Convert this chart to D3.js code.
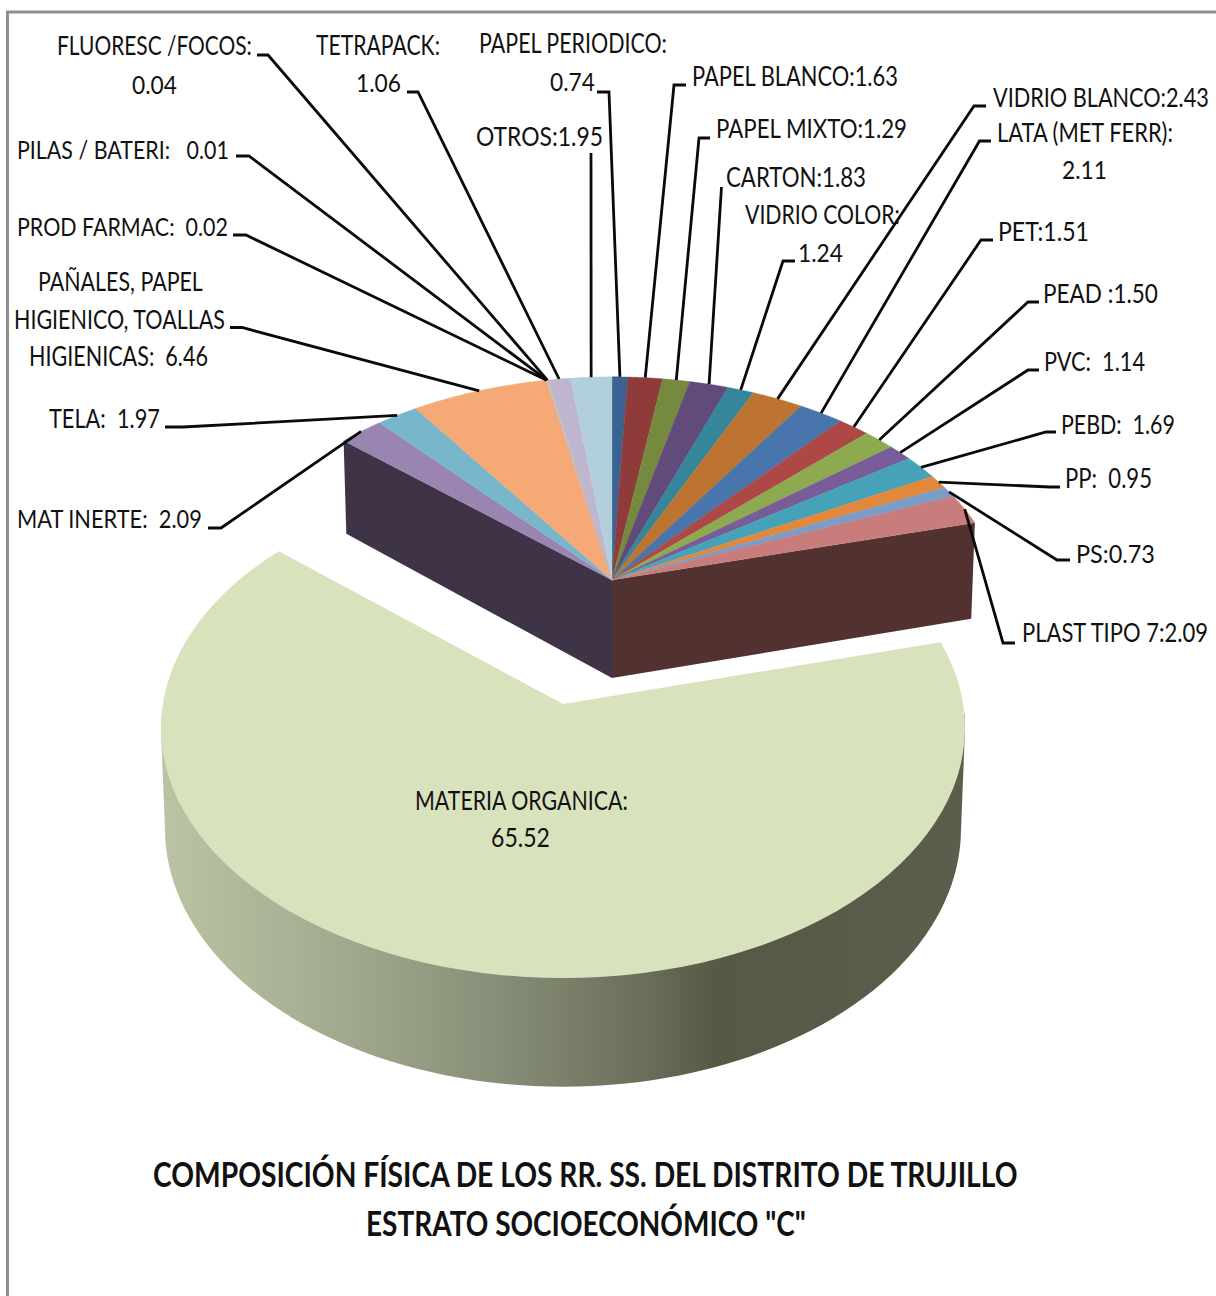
<!DOCTYPE html>
<html>
<head>
<meta charset="utf-8">
<script src="https://d3js.org/d3.v7.min.js"></script>
<style>
  body { margin: 0; background: #fff; }
  text { font-family: Lato, "Open Sans", sans-serif; white-space: pre; fill: #111; }
</style>
</head>
<body>
<svg id="chart" width="1216" height="1296"></svg>
<script>
// Slices, clockwise from 12 o'clock
const categories = ["PAPEL PERIODICO", "PAPEL BLANCO", "PAPEL MIXTO", "CARTON", "VIDRIO COLOR", "VIDRIO BLANCO",
  "LATA (MET FERR)", "PET", "PEAD", "PVC", "PEBD", "PP", "PS", "PLAST TIPO 7", "MATERIA ORGANICA", "MAT INERTE",
  "TELA", "PAÑALES", "PROD FARMAC", "PILAS / BATERI", "FLUORESC / FOCOS", "TETRAPACK", "OTROS"];
const values = [0.74, 1.63, 1.29, 1.83, 1.24, 2.43, 2.11, 1.51, 1.50, 1.14, 1.69, 0.95, 0.73, 2.09, 65.52, 2.09,
  1.97, 6.46, 0.02, 0.01, 0.04, 1.06, 1.95];
const sliceColors = ["#3a6391", "#8e3b3a", "#75893f", "#604b7a", "#35869b", "#bd7430", "#4875ac", "#ae4847", "#8eaa51",
  "#775c98", "#46a2b8", "#e2883d", "#7c9cc8", "#c87c7b", "#d8e3bd", "#9a85b0", "#78b6cc", "#f4a976", "#a9bcd8",
  "#dca9a8", "#c4d5a6", "#bfb5cf", "#b2d0dc"];

// Title text: [text, left, right, baseline]
const titleLines = [
  ["COMPOSICIÓN FÍSICA DE LOS RR. SS. DEL DISTRITO DE TRUJILLO", 153, 1018, 1187],
  ["ESTRATO SOCIOECONÓMICO \"C\"", 366, 806, 1236]
];

// Label text: [text, left, right, baseline]
const labelLines = [
  ["FLUORESC /FOCOS:", 57, 252, 55], ["0.04", 132, 177, 94],
  ["TETRAPACK:", 316, 440, 55], ["1.06", 356, 401, 92],
  ["PAPEL PERIODICO:", 479, 667, 53], ["0.74", 550, 595, 91],
  ["OTROS:1.95", 476, 603, 146],
  ["PILAS / BATERI:   0.01", 17, 229, 159],
  ["PROD FARMAC:  0.02", 17, 228, 236],
  ["PAÑALES, PAPEL", 38, 203, 291], ["HIGIENICO, TOALLAS", 14, 225, 329], ["HIGIENICAS:  6.46", 29, 208, 366],
  ["TELA:  1.97", 49, 160, 428],
  ["MAT INERTE:  2.09", 17, 202, 528],
  ["PAPEL BLANCO:1.63", 692, 898, 86],
  ["PAPEL MIXTO:1.29", 716, 907, 138],
  ["CARTON:1.83", 726, 866, 187],
  ["VIDRIO COLOR:", 745, 900, 224], ["1.24", 798, 843, 262],
  ["VIDRIO BLANCO:2.43", 993, 1209, 107],
  ["LATA (MET FERR):", 997, 1173, 142], ["2.11", 1062, 1107, 179],
  ["PET:1.51", 998, 1089, 241],
  ["PEAD :1.50", 1043, 1158, 303],
  ["PVC:  1.14", 1044, 1145, 371],
  ["PEBD:  1.69", 1061, 1175, 434],
  ["PP:  0.95", 1065, 1152, 488],
  ["PS:0.73", 1076, 1155, 563],
  ["PLAST TIPO 7:2.09", 1022, 1208, 642],
  ["MATERIA ORGANICA:", 415, 628, 810], ["65.52", 491, 550, 847]
];

// Leader elbows per category: [stub x, elbow x, y]; CARTON and OTROS have no stub
const leaderStubs = {
  "PAPEL PERIODICO": [597, 609, 92], "PAPEL BLANCO": [686, 674, 85], "PAPEL MIXTO": [710, 699, 138],
  "CARTON": [721.5, 721.5, 187], "VIDRIO COLOR": [795, 783, 261], "VIDRIO BLANCO": [986, 974, 106],
  "LATA (MET FERR)": [991, 979.5, 141], "PET": [993, 981, 240], "PEAD": [1039, 1028, 302],
  "PVC": [1039, 1028, 370], "PEBD": [1056, 1046, 432], "PP": [1060, 1050, 487], "PS": [1070, 1057, 560],
  "PLAST TIPO 7": [1015, 1003, 643], "MAT INERTE": [208, 221, 528], "TELA": [165, 183, 427],
  "PAÑALES": [230, 242, 327.5], "PROD FARMAC": [233, 246, 235], "PILAS / BATERI": [236, 249, 156],
  "FLUORESC / FOCOS": [257, 268, 55], "TETRAPACK": [407, 418, 92], "OTROS": [591, 591, 153]
};

const svg = d3.select("#chart");

// Perspective of the tilted pie: far points shrink by 1 + k*cos(angle)
const k = 0.142;
const smallPie = { x: 612, y: 580, rx: 389, ry: 232, depth: 98 };
// The big slice takes its direction from the same projection, its edge from a fitted ellipse
const bigPie = { x: 563, y: 704, rx: 398, ry: 246, depth: 100, edge: { cx: 563, cy: 728, a: 402, b: 250 } };

function rim(p, a, lower) {
  const u = Math.sin(a), v = Math.cos(a), w = 1 + k * v;
  let dx = p.rx * u / w, dy = -p.ry * v / w;
  if (p.edge) {
    // walk from the apex along (dx, dy) until the ellipse is reached
    const ox = (p.x - p.edge.cx) / p.edge.a, oy = (p.y - p.edge.cy) / p.edge.b;
    const ex = dx / p.edge.a, ey = dy / p.edge.b;
    const A = ex * ex + ey * ey, B = 2 * (ox * ex + oy * ey), C = ox * ox + oy * oy - 1;
    const t = (-B + Math.sqrt(B * B - 4 * A * C)) / (2 * A);
    dx *= t;
    dy *= t;
  }
  const shrink = lower ? 0.99 : 1;
  return [p.x + shrink * dx, p.y + dy + (lower ? p.depth / (1 + 0.08 * v) : 0)];
}

// Points along a slice rim, so the curve is drawn through the projection
function rimPoints(p, a0, a1, lower) {
  return d3.range(0, 91).map(i => rim(p, a0 + (a1 - a0) * i / 90, lower));
}

const line = d3.line();
const slices = d3.pie().sort(null).startAngle(0).endAngle(2 * Math.PI)(values);
const bigSlice = slices[categories.indexOf("MATERIA ORGANICA")];

// Side gradient of the big slice
const grad = svg.append("defs").append("linearGradient")
  .attr("id", "wall").attr("gradientUnits", "userSpaceOnUse")
  .attr("x1", 161).attr("x2", 966).attr("y1", 0).attr("y2", 0);
[[0, "#bac4a4"], [0.17, "#a9b194"], [0.4, "#8a917a"], [0.5, "#7a806a"], [0.6, "#6a6f5b"], [0.69, "#555946"], [1, "#5a5e4b"]]
  .forEach(s => grad.append("stop").attr("offset", s[0]).attr("stop-color", s[1]));

// Frame, left and top only
svg.append("path").attr("d", "M7.5,1296V12H1216").attr("fill", "none")
  .attr("stroke", "#8e8e8e").attr("stroke-width", 3);

// Big slice: wall is the hull of the near half of both rims, top face goes over it
const nearA0 = 92 * Math.PI / 180, nearA1 = 268 * Math.PI / 180;
svg.append("path")
  .attr("d", line(d3.polygonHull(rimPoints(bigPie, nearA0, nearA1, false).concat(rimPoints(bigPie, nearA0, nearA1, true)))) + "Z")
  .attr("fill", "url(#wall)");
svg.append("path")
  .attr("d", line([[bigPie.x, bigPie.y]].concat(rimPoints(bigPie, bigSlice.startAngle, bigSlice.endAngle, false))) + "Z")
  .attr("fill", sliceColors[bigSlice.index]);

// Cut faces of the block of small slices
const apexLow = [smallPie.x, smallPie.y + smallPie.depth];
svg.append("path")
  .attr("d", line([[smallPie.x, smallPie.y], rim(smallPie, bigSlice.endAngle, false), rim(smallPie, bigSlice.endAngle, true), apexLow]) + "Z")
  .attr("fill", "#3f3447");
svg.append("path")
  .attr("d", line([[smallPie.x, smallPie.y], rim(smallPie, bigSlice.startAngle, false), rim(smallPie, bigSlice.startAngle, true), apexLow]) + "Z")
  .attr("fill", "#523131");

// Top faces of the small slices
svg.append("g").selectAll("path")
  .data(slices.filter(d => d !== bigSlice))
  .join("path")
  .attr("d", d => line([[smallPie.x, smallPie.y]].concat(rimPoints(smallPie, d.startAngle, d.endAngle, false))) + "Z")
  .attr("fill", d => sliceColors[d.index])
  .attr("stroke", d => sliceColors[d.index])
  .attr("stroke-width", 0.4);

// Leader lines from label stub to the middle of the slice rim
svg.append("g").selectAll("path")
  .data(slices.filter(d => leaderStubs[categories[d.index]]))
  .join("path")
  .attr("d", d => {
    const s = leaderStubs[categories[d.index]];
    return line([[s[0], s[2]], [s[1], s[2]], rim(smallPie, (d.startAngle + d.endAngle) / 2, false)]);
  })
  .attr("fill", "none").attr("stroke", "#0a0a0a").attr("stroke-width", 2.8);

// Squeeze a text to the narrow width it has in the picture
function fitText(d) {
  const w = this.getComputedTextLength();
  d3.select(this).attr("transform", `translate(${d[1]},${d[3]}) scale(${(d[2] - d[1]) / w},1)`);
}

svg.append("g").selectAll("text")
  .data(labelLines)
  .join("text")
  .attr("font-size", 26)
  .text(d => d[0])
  .each(fitText);

svg.append("g").selectAll("text")
  .data(titleLines)
  .join("text")
  .attr("font-size", 35).attr("font-weight", 700)
  .text(d => d[0])
  .each(fitText);
</script>
</body>
</html>
